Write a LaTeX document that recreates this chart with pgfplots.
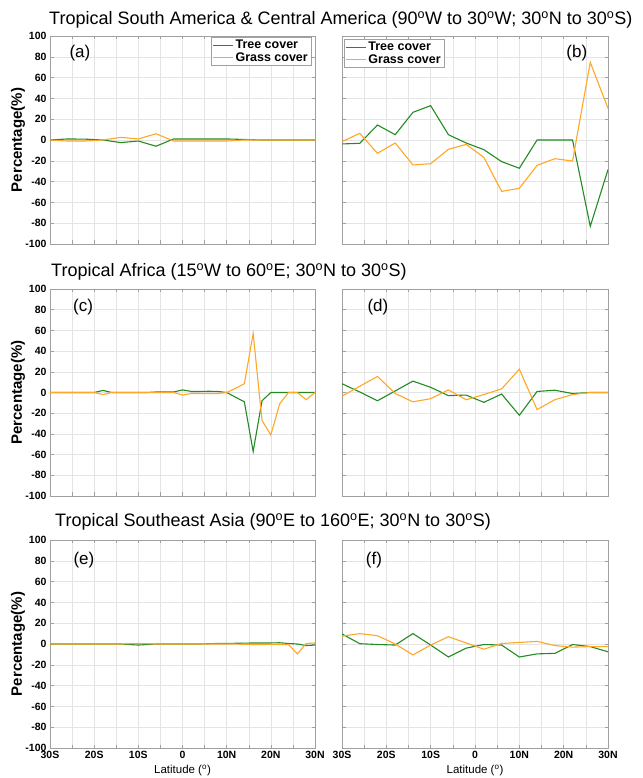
\documentclass[border=0pt]{standalone}
\usepackage{fontspec}
\setmainfont{Liberation Sans}
\usepackage{pgfplots}
\usepackage{pgfplotstable}
\pgfplotsset{compat=1.18}
\definecolor{treec}{RGB}{34,139,34}
\definecolor{grassc}{RGB}{255,167,38}
\definecolor{gridc}{RGB}{228,228,228}
\definecolor{framec}{RGB}{160,160,160}

\pgfplotstableread{
lat tree grass
-30 0 0
-26 1 -1
-22 0.8 -1
-18 0 0
-14 -2.5 2.5
-10 -1 1
-6 -6 6
-2 1 -1
2 1 -1
6 1 -1
10 1 -1
14 0.5 0
18 0 0
22 0 0
26 0 0
30 0 0
}\dataA
\pgfplotstableread{
lat tree grass
-30 -3.8 -1.6
-26 -3.2 6.4
-22 14.4 -12.8
-18 5.1 -2.9
-14 26.6 -24
-10 33 -22.8
-6 5.1 -9
-2 -2.9 -4.2
2 -9.3 -16.7
6 -20.8 -49.4
10 -27.2 -46.5
14 0 -24.4
18 0 -18
22 0 -20.2
26 -83 74.7
30 -28.5 30.4
}\dataB
\pgfplotstableread{
lat tree grass
-30 0 0
-28 0 0
-26 0 0
-24 0 0
-22 0 0
-20 0 0
-18 2 -2
-16 0 0
-14 0 0
-12 0 0
-10 0 0
-8 0 0
-6 0.5 0
-4 0.5 0
-2 0.5 0
0 2.5 -2.5
2 1 -1
4 1 -1
6 1.2 -1
8 1 -1
10 0 0
12 -4.5 4
14 -9 8.5
16 -57 57
18 -8 -27
20 0 -41
22 0 -11
24 0 0
26 0 0
28 0 -7
30 0 0
}\dataC
\pgfplotstableread{
lat tree grass
-30 8.5 -3.5
-26 0.5 6
-22 -8 15.5
-18 1.5 -1
-14 11 -9
-10 5 -6
-6 -3 2.5
-2 -2.5 -7
2 -9.5 -2
6 -1.5 3.5
10 -22 22.5
14 1 -16.5
18 2.2 -7
22 -1 -2
26 0 0
30 0 0
}\dataD
\pgfplotstableread{
lat tree grass
-30 0 0
-28 0 0
-26 0 0
-24 0 0
-22 0 0
-20 0 0
-18 0 0
-16 0 0
-14 0 0
-12 -0.5 0.3
-10 -1 0.5
-8 -0.5 0.3
-6 0 0
-4 0 0
-2 0 0
0 0 0
2 0 0
4 0 0
6 0.3 0
8 0.5 0
10 0.5 0
12 0.7 0
14 0.8 -0.3
16 1 -0.5
18 1 -0.5
20 1 -0.3
22 1.2 -0.5
24 0.5 -0.5
26 0 -9.5
28 -1.5 0.5
30 -1 1
}\dataE
\pgfplotstableread{
lat tree grass
-30 9.7 7.5
-26 0.3 10
-22 -0.5 8
-18 -1 0
-14 10 -10.5
-10 -1 -1
-6 -12.5 7
-2 -4 1
2 -0.5 -5
6 -1 0.5
10 -12.5 1.5
14 -9.5 2.5
18 -9 -1.5
22 -0.5 -3
26 -2.5 -2.5
30 -7.5 -2.5
}\dataF

\pgfplotsset{
  panel/.style={
    scale only axis, width=265pt, height=208pt,
    xmin=-30, xmax=30, ymin=-100, ymax=100,
    xtick={-30,-20,...,30}, minor xtick={-25,-15,...,25},
    ytick={-100,-80,...,100},
    xticklabels={}, yticklabels={},
    grid=both,
    major grid style={gridc, line width=0.5pt},
    minor grid style={gridc, line width=0.5pt},
    tick align=inside, major tick length=3.5pt, minor tick length=3.5pt,
    axis line style={framec, line width=0.7pt},
    every tick/.style={framec, line width=0.5pt},
    xticklabel style={font=\bfseries\fontsize{10.5}{11}\selectfont},
    yticklabel style={font=\bfseries\fontsize{10.5}{10.5}\selectfont},
    legend style={draw=framec, font=\bfseries\fontsize{12.5}{13}\selectfont,
      inner sep=1pt, row sep=-2pt, cells={anchor=west}},
    legend image code/.code={\draw[#1] (0pt,0pt) -- (20pt,0pt);},
  },
  lefty/.style={
    yticklabels={-100,-80,-60,-40,-20,0,20,40,60,80,100},
    ylabel={Percentage(\%)},
    ylabel style={font=\bfseries\fontsize{15}{15}\selectfont,
      at={(axis description cs:-0.121,0.5)}, anchor=center},
  },
  bottomx/.style={
    xticklabels={30S,20S,10S,0,10N,20N,30N},
    xlabel={Latitude (\textsuperscript{o})},
    xlabel style={font=\fontsize{11.5}{12}\selectfont, at={(axis description cs:0.5,-0.108)}, anchor=center},
  },
  treel/.style={treec, line width=1.1pt},
  grassl/.style={grassc, line width=1.1pt},
}

\begin{document}
\begin{tikzpicture}
\path[use as bounding box] (0pt,0pt) rectangle (642pt,778pt);

\node[anchor=base west, font=\fontsize{18}{18}\selectfont, inner sep=0pt] at (49pt,753pt)
  {Tropical South America \& Central America (90\textsuperscript{o}W to 30\textsuperscript{o}W; 30\textsuperscript{o}N to 30\textsuperscript{o}S)};
\node[anchor=base west, font=\fontsize{18}{18}\selectfont, inner sep=0pt] at (51pt,501pt)
  {Tropical Africa (15\textsuperscript{o}W to 60\textsuperscript{o}E; 30\textsuperscript{o}N to 30\textsuperscript{o}S)};
\node[anchor=base west, font=\fontsize{18}{18}\selectfont, inner sep=0pt] at (55pt,251pt)
  {Tropical Southeast Asia (90\textsuperscript{o}E to 160\textsuperscript{o}E; 30\textsuperscript{o}N to 30\textsuperscript{o}S)};

% (a)
\begin{axis}[panel, lefty, at={(50pt,534pt)}, anchor=south west,
  legend style={at={(axis description cs:0.985,0.995)}, anchor=north east}]
\addplot[treel] table[x=lat,y=tree] {\dataA};
\addplot[grassl] table[x=lat,y=grass] {\dataA};
\legend{Tree cover, Grass cover}
\node[font=\fontsize{17}{17}\selectfont] at (axis description cs:0.113,0.918) {(a)};
\end{axis}
% (b)
\begin{axis}[panel, width=266pt, at={(342pt,534pt)}, anchor=south west,
  legend style={at={(axis description cs:0.008,0.985)}, anchor=north west}]
\addplot[treel] table[x=lat,y=tree] {\dataB};
\addplot[grassl] table[x=lat,y=grass] {\dataB};
\legend{Tree cover, Grass cover}
\node[font=\fontsize{17}{17}\selectfont] at (axis description cs:0.883,0.918) {(b)};
\end{axis}
% (c)
\begin{axis}[panel, lefty, height=207pt, at={(50pt,282pt)}, anchor=south west]
\addplot[treel] table[x=lat,y=tree] {\dataC};
\addplot[grassl] table[x=lat,y=grass] {\dataC};
\node[font=\fontsize{17}{17}\selectfont] at (axis description cs:0.125,0.913) {(c)};
\end{axis}
% (d)
\begin{axis}[panel, width=266pt, height=207pt, at={(342pt,282pt)}, anchor=south west]
\addplot[treel] table[x=lat,y=tree] {\dataD};
\addplot[grassl] table[x=lat,y=grass] {\dataD};
\node[font=\fontsize{17}{17}\selectfont] at (axis description cs:0.135,0.913) {(d)};
\end{axis}
% (e)
\begin{axis}[panel, lefty, bottomx, at={(50pt,30pt)}, anchor=south west]
\addplot[treel] table[x=lat,y=tree] {\dataE};
\addplot[grassl] table[x=lat,y=grass] {\dataE};
\node[font=\fontsize{17}{17}\selectfont] at (axis description cs:0.128,0.904) {(e)};
\end{axis}
% (f)
\begin{axis}[panel, bottomx, width=266pt, at={(342pt,30pt)}, anchor=south west]
\addplot[treel] table[x=lat,y=tree] {\dataF};
\addplot[grassl] table[x=lat,y=grass] {\dataF};
\node[font=\fontsize{17}{17}\selectfont] at (axis description cs:0.12,0.904) {(f)};
\end{axis}
\end{tikzpicture}
\end{document}
